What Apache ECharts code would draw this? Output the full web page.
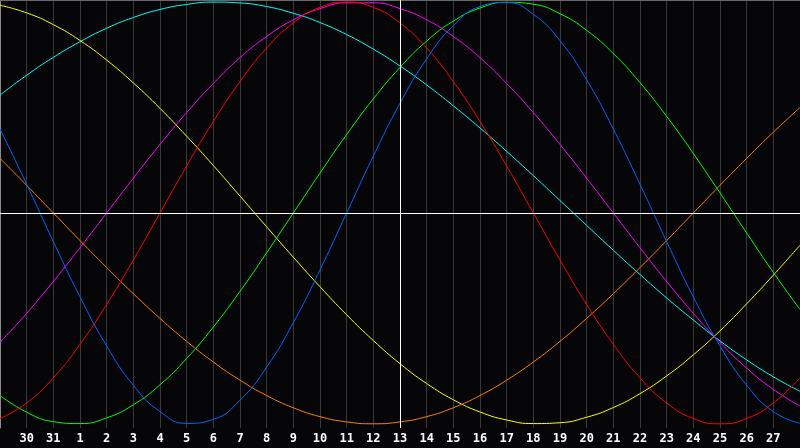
<!DOCTYPE html>
<html>
<head>
<meta charset="utf-8">
<script src="https://cdn.jsdelivr.net/npm/echarts@6/dist/echarts.min.js"></script>
<style>
html,body{margin:0;padding:0;background:#060608;}
#c{width:800px;height:448px;}
</style>
</head>
<body>
<div id="c"></div>
<script>
// Day labels for day index 0..30 (index 0 and 30 are unlabeled edges)
const dayLabels = ['29','30','31','1','2','3','4','5','6','7','8','9','10','11','12','13','14','15','16','17','18','19','20','21','22','23','24','25','26','27','28'];
const todayIndex = 15;

// Series values, one per day index 0..30 (range -1..1)
const blue = [0.398,0.136,-0.136,-0.398,-0.631,-0.817,-0.942,-0.998,-0.979,-0.888,-0.731,-0.520,-0.270,0.000,0.270,0.520,0.731,0.888,0.979,0.998,0.942,0.817,0.631,0.398,0.136,-0.136,-0.398,-0.631,-0.817,-0.942,-0.998];
const red = [-0.975,-0.901,-0.782,-0.623,-0.434,-0.223,0.000,0.223,0.434,0.623,0.782,0.901,0.975,1.000,0.975,0.901,0.782,0.623,0.434,0.223,0.000,-0.223,-0.434,-0.623,-0.782,-0.901,-0.975,-1.000,-0.975,-0.901,-0.782];
const green = [-0.866,-0.945,-0.990,-0.999,-0.972,-0.910,-0.815,-0.690,-0.541,-0.372,-0.189,0.000,0.189,0.372,0.541,0.690,0.815,0.910,0.972,0.999,0.990,0.945,0.866,0.756,0.618,0.458,0.282,0.095,-0.095,-0.282,-0.458];
const magenta = [-0.614,-0.476,-0.325,-0.165,0.000,0.165,0.325,0.476,0.614,0.736,0.837,0.916,0.969,0.997,0.997,0.969,0.916,0.837,0.736,0.614,0.476,0.325,0.165,0.000,-0.165,-0.325,-0.476,-0.614,-0.736,-0.837,-0.916];
const yellow = [0.985,0.949,0.893,0.818,0.725,0.617,0.496,0.364,0.225,0.080,-0.066,-0.210,-0.350,-0.483,-0.605,-0.715,-0.809,-0.886,-0.944,-0.982,-0.999,-0.995,-0.969,-0.923,-0.857,-0.773,-0.673,-0.559,-0.431,-0.295,-0.153];
const orange = [0.259,0.131,0.000,-0.131,-0.259,-0.383,-0.500,-0.609,-0.707,-0.793,-0.866,-0.924,-0.966,-0.991,-1.000,-0.991,-0.966,-0.924,-0.866,-0.793,-0.707,-0.609,-0.500,-0.383,-0.259,-0.131,0.000,0.131,0.259,0.383,0.500];
const cyan = [0.559,0.653,0.738,0.812,0.876,0.927,0.965,0.989,1.000,0.996,0.979,0.947,0.903,0.846,0.777,0.697,0.607,0.508,0.403,0.292,0.177,0.059,-0.059,-0.177,-0.292,-0.403,-0.508,-0.607,-0.697,-0.777,-0.846];

const seriesDefs = [
  {name:'cyan', data:cyan, color:'#00ffff'},
  {name:'yellow', data:yellow, color:'#ffff00'},
  {name:'orange', data:orange, color:'#ff8000'},
  {name:'magenta', data:magenta, color:'#ff00ff'},
  {name:'green', data:green, color:'#00ff00'},
  {name:'red', data:red, color:'#ff0000'},
  {name:'blue', data:blue, color:'#0066ff'}
];

const chart = echarts.init(document.getElementById('c'));
const series = seriesDefs.map(s => ({
  name: s.name,
  type: 'line',
  data: s.data.map((v,i)=>[i,v]),
  smooth: true,
  showSymbol: false,
  silent: true,
  lineStyle: {color: s.color, width: 1},
  itemStyle: {color: s.color},
  z: 3
}));
series.push({
  type: 'line',
  data: [],
  silent: true,
  markLine: {
    silent: true,
    symbol: ['none','none'],
    label: {show:false},
    lineStyle: {color:'#ffffff', width:1, type:'solid'},
    data: [{yAxis: 0}, {xAxis: todayIndex}]
  },
  z: 2
});

chart.setOption({
  backgroundColor: '#060608',
  animation: false,
  grid: {left: 0, right: 0, top: 0, bottom: 20},
  xAxis: [{
    type: 'value', min: 0, max: 30, interval: 1,
    axisLine: {show: true, lineStyle: {color: '#9a9a9a', width: 1}},
    axisTick: {show: false},
    splitLine: {show: true, lineStyle: {color: '#3a3a3a', width: 1}},
    axisLabel: {
      show: true, color: '#ffffff', fontFamily: 'DejaVu Sans Mono', fontWeight: 'bold', fontSize: 12, margin: 5,
      showMinLabel: false, showMaxLabel: false,
      formatter: v => dayLabels[v] || ''
    }
  },{
    type: 'value', min: 0, max: 30, position: 'top',
    axisLine: {show: true, lineStyle: {color: '#6a6a6a', width: 1}},
    axisTick: {show: false}, axisLabel: {show: false}, splitLine: {show: false}
  }],
  yAxis: {
    type: 'value', min: -1.02, max: 1.01,
    axisLine: {show: true, lineStyle: {color: '#8a8a8a', width: 1}},
    axisTick: {show: false}, axisLabel: {show: false}, splitLine: {show: false}
  },
  series: series
});
</script>
</body>
</html>
